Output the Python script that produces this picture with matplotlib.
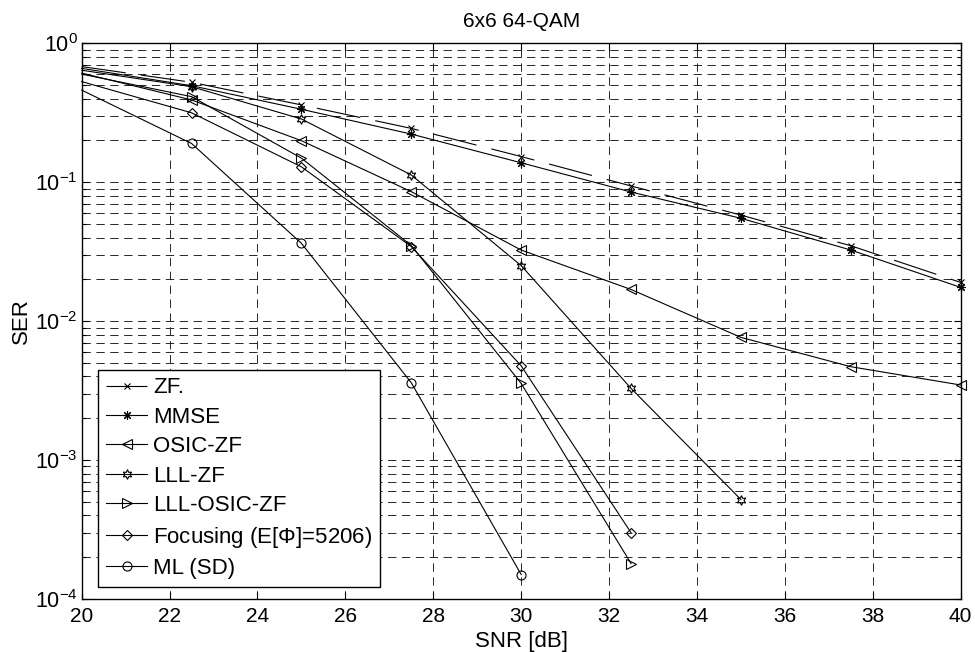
import matplotlib
matplotlib.use("Agg")
import matplotlib.pyplot as plt
import numpy as np

plt.rcParams['font.family'] = ['Liberation Sans', 'DejaVu Sans']
plt.rcParams['mathtext.fontset'] = 'custom'
plt.rcParams['mathtext.rm'] = 'Liberation Sans'
plt.rcParams['mathtext.it'] = 'Liberation Sans:italic'
plt.rcParams['lines.scale_dashes'] = False

# SNR axis (dB)
snr = [20, 22.5, 25, 27.5, 30, 32.5, 35, 37.5, 40]

# Symbol error rates per detector
ser_zf = [0.68, 0.524, 0.36, 0.244, 0.153, 0.094, 0.058, 0.0349, 0.019]
ser_mmse = [0.66, 0.495, 0.335, 0.222, 0.138, 0.085, 0.055, 0.0325, 0.0175]
ser_osic_zf = [0.61, 0.391, 0.199, 0.0855, 0.0325, 0.0169, 0.00764, 0.0047, 0.00347]
ser_lll_zf = [0.64, 0.487, 0.285, 0.1127, 0.0251, 0.00328, 0.00052]
ser_lll_osic_zf = [0.60, 0.413, 0.149, 0.035, 0.00356, 0.00018]
ser_focusing = [0.53, 0.316, 0.129, 0.0344, 0.00477, 0.0003]
ser_ml = [0.46, 0.19, 0.0363, 0.0036, 0.00015]

labels = ['ZF.', 'MMSE', 'OSIC-ZF', 'LLL-ZF', 'LLL-OSIC-ZF',
          r'Focusing (E[$\Phi$]=5206)', 'ML (SD)']

xticks = [20, 22, 24, 26, 28, 30, 32, 34, 36, 38, 40]

fig = plt.figure(figsize=(9.75, 6.53), dpi=100)
ax = fig.add_axes([0.0838, 0.0827, 0.9015, 0.851])

hexagram = (6, 1, 0)
asterisk = (8, 2, 0)
series = [
    (ser_zf, 'x', 5, (0, (32, 11))),
    (ser_mmse, asterisk, 6.5, '-'),
    (ser_osic_zf, '<', 7, '-'),
    (ser_lll_zf, hexagram, 7, '-'),
    (ser_lll_osic_zf, '>', 7, '-'),
    (ser_focusing, 'D', 5.5, '-'),
    (ser_ml, 'o', 6.5, '-'),
]

# first sample sits on the left axis edge and carries no marker
for (vals, mk, ms, ls), lab in zip(series, labels):
    ax.semilogy(snr[:len(vals)], vals, color='k', lw=0.8, linestyle=ls,
                marker=mk, ms=ms, mfc='none', mec='k', mew=0.8,
                markevery=slice(1, None), label=lab, clip_on=False)

ax.set_xlim(20, 40)
ax.set_ylim(1e-4, 1)
ax.set_xticks(xticks)

grid_style = dict(color='0.15', linestyle=(0, (6, 4)), linewidth=0.7)
ax.grid(True, which='major', axis='both', **grid_style)
ax.grid(True, which='minor', axis='y', **grid_style)
ax.set_axisbelow(True)

ax.tick_params(which='both', direction='in', top=True, right=True,
               width=0.8)
ax.tick_params(which='major', length=5)
ax.tick_params(which='minor', length=3)
ax.tick_params(axis='x', labelsize=15, pad=6)
ax.tick_params(axis='y', labelsize=15.5, pad=3)
for sp in ax.spines.values():
    sp.set_linewidth(1.0)

ax.set_xlabel('SNR [dB]', fontsize=16, labelpad=3.5)
ax.set_ylabel('SER', fontsize=16, labelpad=2)
ax.set_title('6x6 64-QAM', fontsize=15, pad=11.5)

leg = ax.legend(loc='lower left', bbox_to_anchor=(0.019, 0.022),
                borderaxespad=0, fontsize=16, fancybox=False,
                edgecolor='k', framealpha=1, handlelength=1.85,
                handletextpad=0.25, labelspacing=0.38, borderpad=0.35)
leg.get_frame().set_linewidth(1.0)

fig.savefig('out.png', dpi=100, facecolor='white')
